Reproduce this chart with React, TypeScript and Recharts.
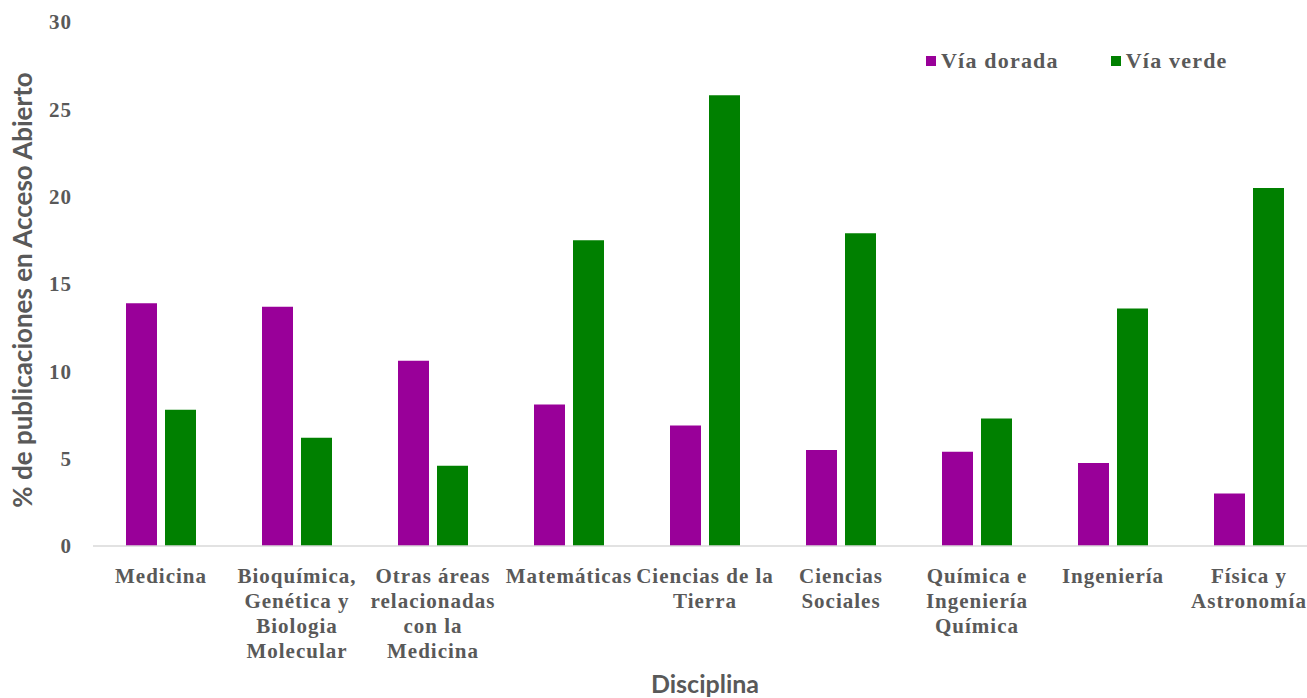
import React from 'react';
import { BarChart, Bar, XAxis, YAxis, Legend } from 'recharts';

const categories = [
  'Medicina',
  'Bioquímica,\nGenética y\nBiologia\nMolecular',
  'Otras áreas\nrelacionadas\ncon la\nMedicina',
  'Matemáticas',
  'Ciencias de la\nTierra',
  'Ciencias\nSociales',
  'Química e\nIngeniería\nQuímica',
  'Ingeniería',
  'Física y\nAstronomía',
];
const viaDorada = [13.9, 13.7, 10.6, 8.1, 6.9, 5.5, 5.4, 4.75, 3.0];
const viaVerde = [7.8, 6.2, 4.6, 17.5, 25.8, 17.9, 7.3, 13.6, 20.5];
const yTicks = [0, 5, 10, 15, 20, 25, 30];

const data = categories.map((c, i) => ({ name: c, dorada: viaDorada[i], verde: viaVerde[i] }));

const PURPLE = '#990099';
const GREEN = '#008000';
const TEXT = '#595959';
const SERIF = '"Liberation Serif", "Times New Roman", serif';
const SANS = 'Lato, "Open Sans", sans-serif';

const XTick = (props: any) => {
  const { x, y, payload } = props;
  const lines = String(payload.value).split('\n');
  return (
    <g transform={`translate(${x},${y})`}>
      {lines.map((l, i) => (
        <text
          key={i}
          x={0}
          y={29 + i * 25}
          textAnchor="middle"
          fill={TEXT}
          fontFamily={SERIF}
          fontWeight="bold"
          fontSize={21}
          letterSpacing={1}
        >
          {l}
        </text>
      ))}
    </g>
  );
};

const LegendContent = () => (
  <div style={{ display: 'flex', alignItems: 'center', fontFamily: SERIF, fontWeight: 'bold', fontSize: 22, color: TEXT, letterSpacing: 1.2 }}>
    <span style={{ display: 'inline-block', width: 10, height: 10, background: PURPLE, marginRight: 5 }} />
    <span style={{ marginRight: 52 }}>Vía dorada</span>
    <span style={{ display: 'inline-block', width: 10, height: 10, background: GREEN, marginRight: 5 }} />
    <span>Vía verde</span>
  </div>
);

export default function App() {
  return (
    <div style={{ position: 'fixed', left: 0, top: 0, width: 1307, height: 698, overflow: 'hidden', background: '#fff' }}>
      <BarChart
        width={1320}
        height={698}
        data={data}
        margin={{ top: 22, right: 3, bottom: 0, left: 0 }}
        barGap={8}
        barCategoryGap={33}
      >
        <XAxis
          dataKey="name"
          height={152}
          interval={0}
          axisLine={{ stroke: '#d9d9d9', strokeWidth: 1.5 }}
          tickLine={false}
          tick={<XTick />}
          label={{
            value: 'Disciplina',
            position: 'insideBottom',
            offset: 5,
            style: { fontFamily: SANS, fontWeight: 'bold', fontSize: 25, fill: TEXT },
          }}
        />
        <YAxis
          width={93}
          domain={[0, 30]}
          ticks={yTicks}
          axisLine={false}
          tickLine={false}
          tickSize={0}
          tickMargin={21}
          tick={{ fill: TEXT, fontFamily: SERIF, fontWeight: 'bold', fontSize: 21, letterSpacing: 1 }}
          label={{
            value: '% de publicaciones en Acceso Abierto',
            angle: -90,
            position: 'insideLeft',
            offset: 0,
            dx: 23,
            dy: 6,
            style: { fontFamily: SANS, fontWeight: 'bold', fontSize: 26, fill: TEXT, textAnchor: 'middle' },
          }}
        />
        <Legend
          layout="horizontal"
          verticalAlign="middle"
          align="center"
          content={<LegendContent />}
          wrapperStyle={{ position: 'absolute', top: 48, left: 926, width: 360 }}
        />
        <Bar dataKey="dorada" name="Vía dorada" fill={PURPLE} isAnimationActive={false} />
        <Bar dataKey="verde" name="Vía verde" fill={GREEN} isAnimationActive={false} />
      </BarChart>
    </div>
  );
}
